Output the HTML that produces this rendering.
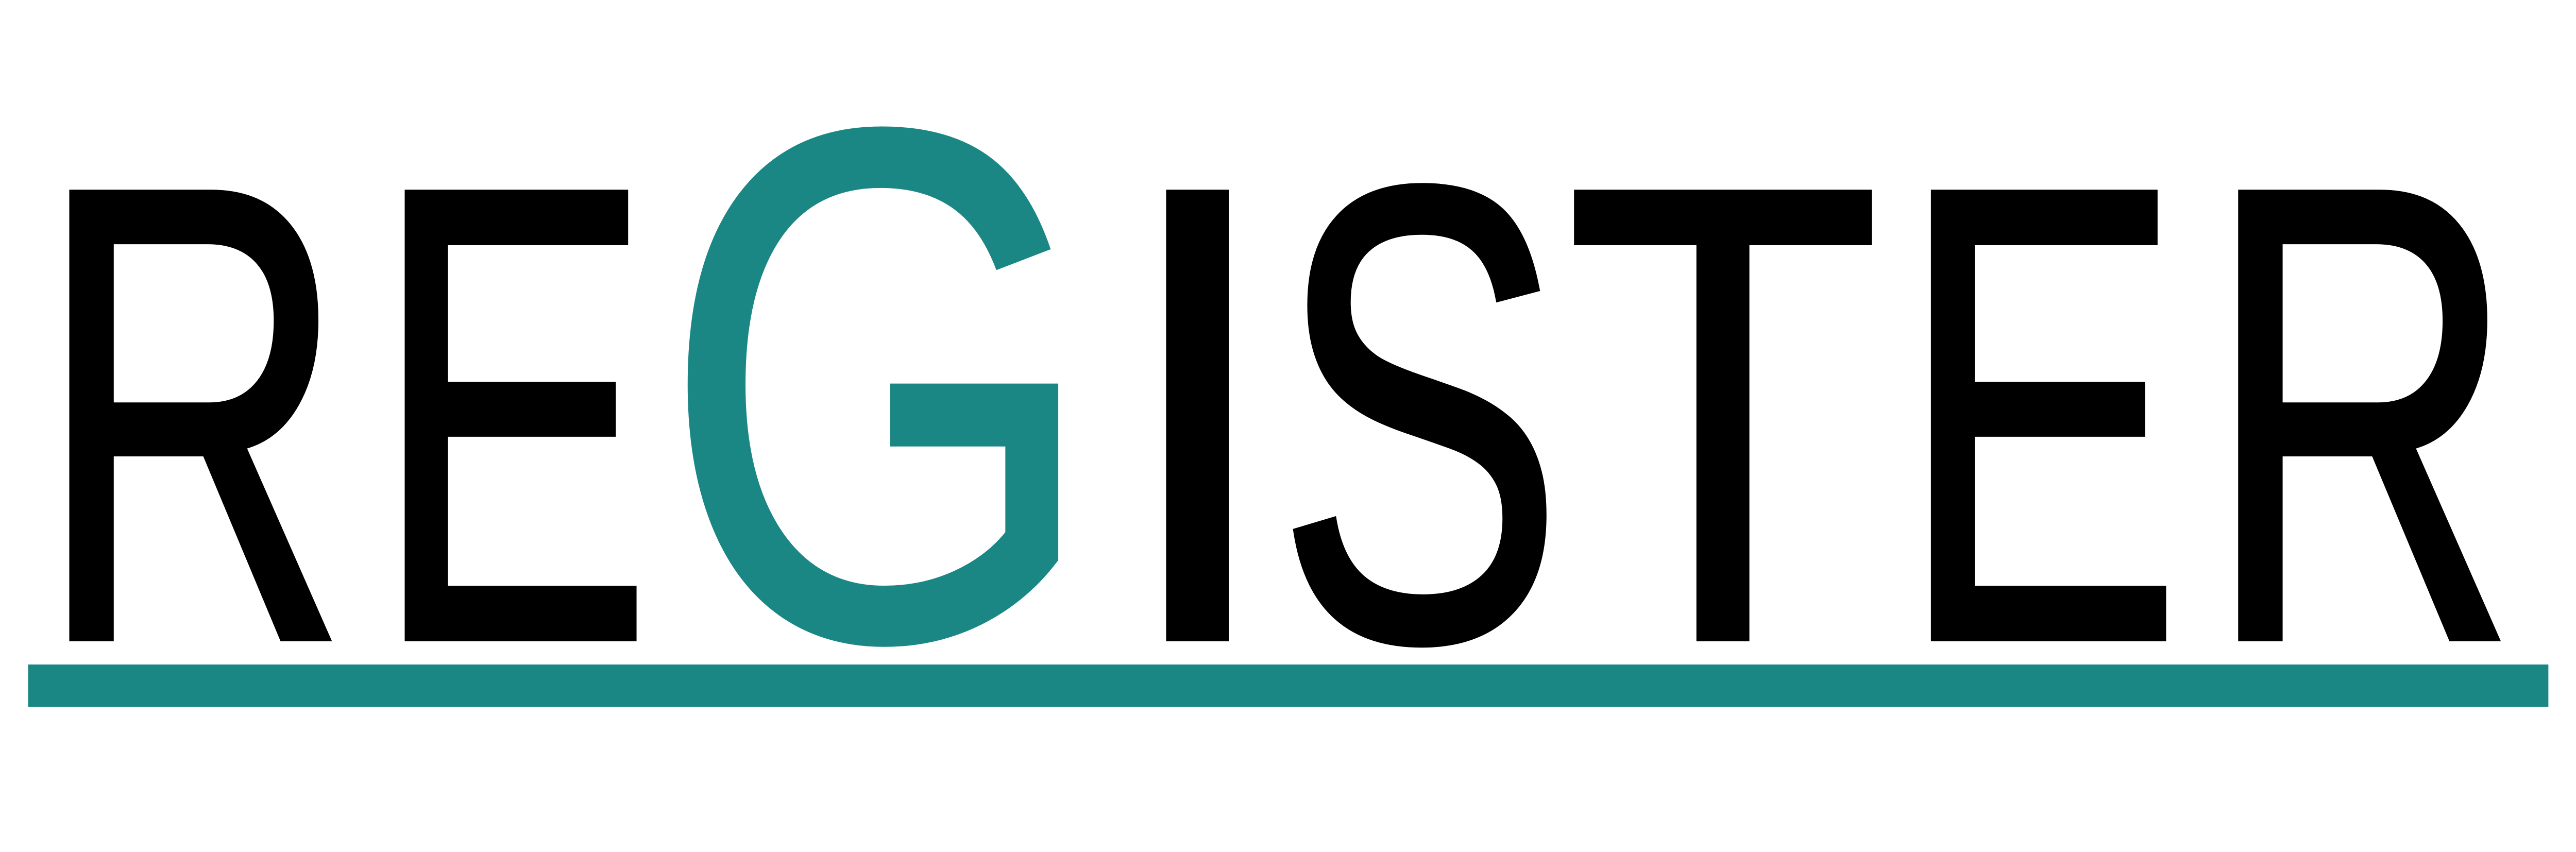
<!DOCTYPE html>
<html><head><meta charset="utf-8"><style>
html,body{margin:0;padding:0;background:#fff;width:100%;height:100%;overflow:hidden}
svg{display:block;position:absolute;left:0;top:0;width:100vw;height:100vh}
text{font-family:"Liberation Sans",sans-serif}
</style></head><body>
<svg viewBox="0 0 5315 1654" preserveAspectRatio="none">
<g font-size="1257" fill="#000" stroke="#000" stroke-width="12">
<text transform="translate(145,1239) scale(0.71,1)" x="-100" y="0">R</text>
<text transform="translate(837,1239) scale(0.69,1)" x="-100" y="0">E</text>
<text transform="translate(2409,1239) scale(1,1)" x="-113" y="0">I</text>
<text transform="translate(2677,1239) scale(0.71,1)" x="-63" y="0">S</text>
<text transform="translate(3250,1239) scale(0.85,1)" x="-25" y="0">T</text>
<text transform="translate(3986,1239) scale(0.70,1)" x="-100" y="0">E</text>
<text transform="translate(4620,1239) scale(0.71,1)" x="-100" y="0">R</text>
</g>
<text transform="translate(1423,1236) scale(0.82,1)" x="-70" y="0" font-size="1410" fill="#1b8785" stroke="#1b8785" stroke-width="12">G</text>
<rect x="58" y="1290" width="5200" height="82" fill="#1b8785"/>
</svg>
</body></html>
